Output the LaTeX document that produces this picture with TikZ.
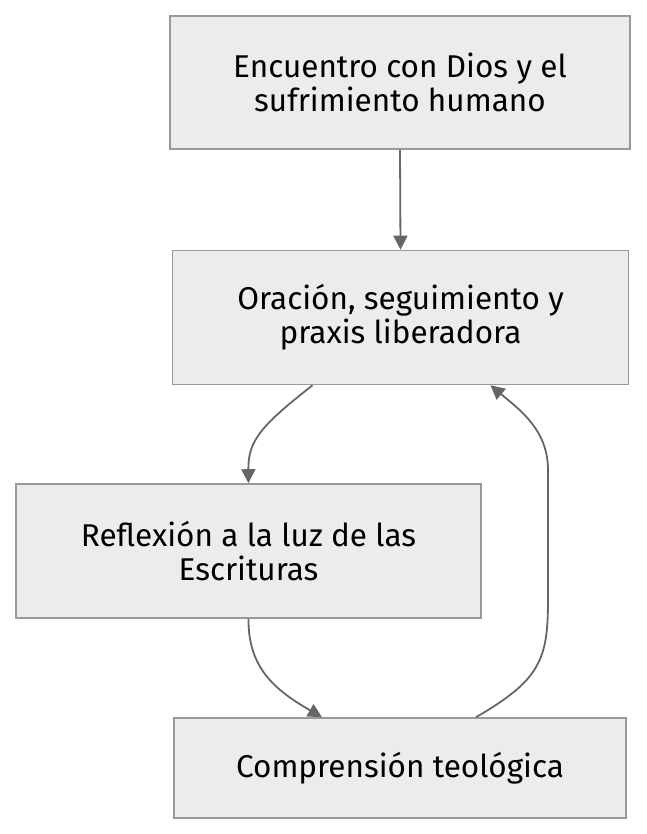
\documentclass[tikz,border=0pt]{standalone}
\usepackage{fontspec}
\setmainfont{Fira Sans}
\usetikzlibrary{arrows.meta}
\definecolor{boxfill}{HTML}{ECECEC}
\definecolor{boxline}{HTML}{999999}
\definecolor{edgecol}{HTML}{666666}
\tikzset{
  box/.style={draw=boxline, fill=boxfill, line width=1.6pt, rectangle, inner sep=0pt, align=center,
    font=\fontsize{31.5}{34}\selectfont},
  conn/.style={draw=edgecol, line width=1.8pt, -{Triangle[length=14pt,width=14pt]}}
}
\begin{document}
\begin{tikzpicture}[x=1pt,y=-1pt]
\useasboundingbox (0,0) rectangle (646,834);
\node[box, minimum width=460pt, minimum height=133pt] (b1) at (400,82.5) {Encuentro con Dios y el\\sufrimiento humano};
\node[box, minimum width=456pt, minimum height=134pt] (b2) at (400.5,317.5) {Oración, seguimiento y\\praxis liberadora};
\node[box, minimum width=465pt, minimum height=134pt] (b3) at (248.5,551) {Reflexión a la luz de las\\Escrituras};
\node[box, minimum width=452pt, minimum height=100pt] (b4) at (400,768) {Comprensión teológica};
\draw[conn] (b1.south) -- (b2.north);
\draw[conn] ([xshift=-88pt]b2.south) .. controls (262,425) and (248,440) .. (b3.north);
\draw[conn] (b3.south) .. controls (248,668) and (275,690) .. ([xshift=-78pt]b4.north);
\draw[conn] ([xshift=76pt]b4.north) .. controls (540,680) and (548,660) .. (548,600) -- (548,470) .. controls (548,430) and (520,410) .. ([xshift=90pt]b2.south);
\end{tikzpicture}
\end{document}
